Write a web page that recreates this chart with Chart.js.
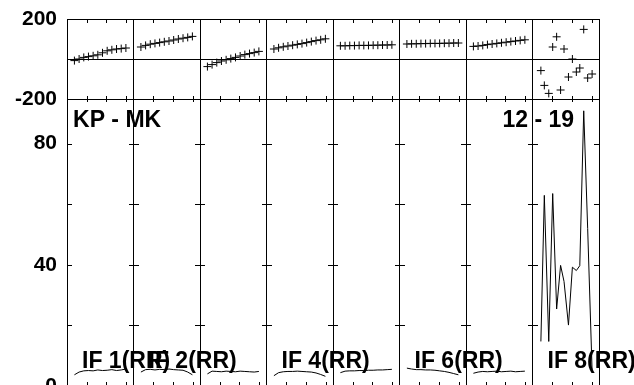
<!DOCTYPE html>
<html>
<head>
<meta charset="utf-8">
<script src="https://cdn.jsdelivr.net/npm/chart.js@4.4.0/dist/chart.umd.min.js"></script>
<style>
  html, body { margin: 0; padding: 0; background: #fff; overflow: hidden; }
  #chart { display: block; }
</style>
</head>
<body>
<canvas id="chart" width="634" height="400"></canvas>
<script>
// panel captions along the bottom (empty = no caption)
const panelNames = ['IF 1(RR)', 'IF 2(RR)', '', 'IF 4(RR)', '', 'IF 6(RR)', '', 'IF 8(RR)'];
const cornerLeft = 'KP - MK';
const cornerRight = '12 - 19';

// sample positions inside a panel
const sampleX = [1.5, 2.45, 3.4, 4.35, 5.3, 6.25, 7.2, 8.15, 9.1, 10.05, 11, 11.95];
const sampleX8 = [1.7, 2.4, 3.3, 4.1, 4.9, 5.7, 6.4, 7.3, 8.1, 8.9, 9.6, 10.4, 11.2, 12.1];

// upper strip (-200 .. 200)
const top1 = [-8, 0, 8, 12, 16, 21, 31, 41, 46, 50, 52, 55];
const top2 = [60, 68, 74, 78, 82, 86, 90, 95, 100, 104, 108, 113];
const top3 = [-38, -28, -18, -10, -4, 2, 8, 15, 22, 27, 32, 38];
const top4 = [50, 56, 61, 65, 69, 73, 77, 82, 87, 92, 96, 101];
const top5 = [66, 66, 67, 67, 68, 68, 68, 69, 69, 70, 70, 71];
const top6 = [75, 76, 76, 77, 77, 78, 78, 78, 79, 79, 80, 80];
const top7 = [63, 65, 68, 72, 75, 78, 81, 84, 87, 90, 93, 96];
const top8 = [-58, -132, -172, 60, 111, -155, 50, -90, 0, -65, -45, 148, -95, -75];

// lower strip (0 .. ~95)
const low1 = [3.7, 4.6, 5.0, 5.1, 5.0, 5.3, 5.1, 5.2, 5.4, 5.1, 5.3, 5.6];
const low2 = [4.6, 5.4, 5.5, 5.3, 5.5, 5.4, 5.6, 5.4, 5.3, 5.2, 4.6, 3.7];
const low3 = [4.0, 4.9, 4.8, 4.7, 4.9, 4.8, 4.7, 4.9, 4.8, 4.7, 4.6, 4.8];
const low4 = [3.4, 4.4, 4.7, 4.8, 4.8, 4.9, 4.8, 4.7, 4.6, 4.3, 3.8, 3.2];
const low5 = [4.4, 4.9, 5.0, 5.0, 5.1, 5.1, 5.2, 5.2, 5.3, 5.3, 5.4, 5.5];
const low6 = [5.9, 5.6, 5.4, 5.4, 5.3, 5.3, 5.2, 5.0, 4.8, 4.5, 4.1, 3.7];
const low7 = [4.2, 4.6, 4.8, 4.7, 4.8, 4.9, 4.7, 4.8, 4.9, 4.7, 4.8, 4.9];
const low8 = [14.7, 62.9, 14.7, 63.5, 25.4, 39.8, 34.5, 20.1, 39.2, 38.1, 39.7, 90.8, 52, 5];

const topTicks = [-200, 0, 200];
const topTickLabels = ['-200', '', '200'];
const lowTicks = [0, 20, 40, 60, 80];
const lowTickLabels = ['0', '', '40', '', '80'];
const minorTicks = [4, 8, 12];

const topSeries = [top1, top2, top3, top4, top5, top6, top7, top8];
const lowSeries = [low1, low2, low3, low4, low5, low6, low7, low8];

const COL_W = 13.5;
const FONT = '"Liberation Sans", Arial, Helvetica, sans-serif';

function place(values, col) {
  const xs = values.length === sampleX8.length ? sampleX8 : sampleX;
  return values.map((v, i) => ({ x: col * COL_W + xs[i], y: v }));
}

const datasets = [];
topSeries.forEach((vals, c) => {
  datasets.push({
    data: place(vals, c),
    yAxisID: 'yTop',
    pointStyle: 'cross',
    pointRadius: 4,
    pointHoverRadius: 4,
    borderColor: '#000',
    borderWidth: 1,
    showLine: false
  });
});
lowSeries.forEach((vals, c) => {
  datasets.push({
    data: place(vals, c),
    yAxisID: 'yLow',
    showLine: true,
    pointRadius: 0,
    borderColor: '#000',
    borderWidth: 1,
    tension: 0
  });
});

const panelDecor = {
  id: 'panelDecor',
  afterDatasetsDraw(chart) {
    const { ctx } = chart;
    const { x, yTop, yLow } = chart.scales;
    const n = panelNames.length;
    ctx.save();
    ctx.strokeStyle = '#000';
    ctx.lineWidth = 1;
    ctx.beginPath();
    for (let c = 0; c < n; c++) {
      minorTicks.forEach(m => {
        const px = Math.round(x.getPixelForValue(c * COL_W + m)) + 0.5;
        ctx.moveTo(px, yTop.top); ctx.lineTo(px, yTop.top + 4);
        ctx.moveTo(px, yTop.bottom - 3); ctx.lineTo(px, yTop.bottom + 3);
        ctx.moveTo(px, yLow.bottom); ctx.lineTo(px, yLow.bottom - 4);
      });
    }
    for (let c = 0; c <= n; c++) {
      const px = Math.round(x.getPixelForValue(c * COL_W));
      lowTicks.forEach(v => {
        if (v === 0) return;
        const py = Math.round(yLow.getPixelForValue(v)) + 0.5;
        ctx.moveTo(c === 0 ? px : px - 5, py);
        ctx.lineTo(c === n ? px : px + 5, py);
      });
    }
    ctx.stroke();

    ctx.fillStyle = '#000';
    ctx.font = 'bold 23px ' + FONT;
    ctx.textBaseline = 'alphabetic';
    ctx.textAlign = 'left';
    ctx.fillText(cornerLeft, x.left + 6, yTop.bottom + 28);
    ctx.fillText(cornerRight, x.getPixelForValue(7 * COL_W) - 30, yTop.bottom + 28);
    panelNames.forEach((name, c) => {
      if (!name) return;
      ctx.fillText(name, x.getPixelForValue(c * COL_W) + 15, yLow.bottom - 18);
    });
    ctx.restore();
  }
};

const tickFont = { family: FONT, size: 21, weight: 'bold' };
const hiddenTick = 'rgba(0,0,0,0)';

new Chart(document.getElementById('chart'), {
  type: 'scatter',
  data: { datasets },
  options: {
    responsive: false,
    animation: false,
    events: [],
    layout: { padding: { top: 19, left: 15, right: 35, bottom: 14 } },
    plugins: { legend: { display: false }, tooltip: { enabled: false } },
    scales: {
      x: {
        type: 'linear',
        min: 0,
        max: panelNames.length * COL_W,
        afterBuildTicks: s => { s.ticks = panelNames.map((_, i) => ({ value: i * COL_W })).concat([{ value: panelNames.length * COL_W }]); },
        ticks: { display: false, autoSkip: false },
        grid: { color: '#000', lineWidth: 1, drawTicks: false },
        border: { display: false }
      },
      yLow: {
        type: 'linear',
        position: 'left',
        stack: 'panels',
        stackWeight: 287,
        min: 0,
        max: 94.7,
        afterBuildTicks: s => { s.ticks = lowTicks.map(v => ({ value: v })); },
        ticks: { callback: (v, i) => lowTickLabels[i], autoSkip: false, padding: 0, color: '#000', font: tickFont },
        grid: { drawOnChartArea: false, drawTicks: true, tickLength: 10, tickColor: hiddenTick },
        border: { display: true, color: '#000' }
      },
      yTop: {
        type: 'linear',
        position: 'left',
        stack: 'panels',
        stackWeight: 80,
        min: -200,
        max: 200,
        afterBuildTicks: s => { s.ticks = topTicks.map(v => ({ value: v })); },
        ticks: { callback: (v, i) => topTickLabels[i], autoSkip: false, padding: 0, color: '#000', font: tickFont },
        grid: { color: '#000', lineWidth: 1, drawTicks: true, tickLength: 10, tickColor: hiddenTick },
        border: { display: true, color: '#000' }
      }
    }
  },
  plugins: [panelDecor]
});
</script>
</body>
</html>
